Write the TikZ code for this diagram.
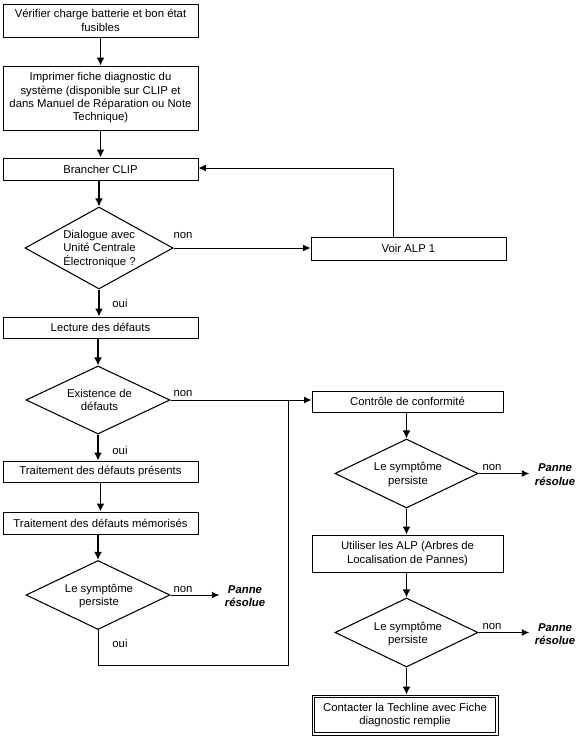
\documentclass[tikz,border=0pt]{standalone}
\usepackage{fontspec}
\setmainfont{Liberation Sans}
\usetikzlibrary{arrows.meta,shapes.geometric}
\begin{document}
\begin{tikzpicture}[x=0.75pt,y=-0.75pt,
  font=\fontsize{8.5}{10}\selectfont,
  box/.style={draw,line width=0.7pt,rectangle,inner sep=0pt,align=center,minimum width=146.25pt},
  dia/.style={draw,line width=0.8pt,diamond,inner sep=0pt},
  txt/.style={inner sep=0pt,align=center},
  lbl/.style={inner sep=0pt},
  panne/.style={inner sep=4pt,align=center,font=\fontsize{8.5}{10}\selectfont\bfseries\itshape},
  flow/.style={line width=1.3pt,-{Latex[length=6pt,width=6pt]}},
  side/.style={line width=0.6pt,-{Latex[length=5.5pt,width=5pt]}},
  plain/.style={line width=0.6pt}]
\useasboundingbox (0,0) rectangle (579,739);
% left column
\node[box,minimum height=24.75pt] (b1) at (100.5,20.5) {Vérifier charge batterie et bon état\\fusibles};
\node[box,minimum height=48pt] (b2) at (100.5,98) {Imprimer fiche diagnostic du\\système (disponible sur CLIP et\\dans Manuel de Réparation ou Note\\Technique)};
\node[box,minimum height=16.5pt] (b3) at (100.5,169) {Brancher CLIP};
\node[dia,minimum width=111pt,minimum height=61.5pt] (d1) at (99,248) {};
\node[txt,align=left,anchor=west] (t1) at (63,249) {Dialogue avec\\Unité Centrale\\Électronique ?};
\node[box,minimum height=17.25pt] (alp) at (408.5,248.5) {Voir ALP 1};
\node[box,minimum height=15.75pt] (b4) at (100.5,327.5) {Lecture des défauts};
\node[dia,minimum width=108pt,minimum height=51pt] (d2) at (98,400) {};
\node[txt] (t2) at (99.5,400) {Existence de\\défauts};
\node[box,minimum width=143.25pt,minimum height=15.75pt] (ctrl) at (407.5,401.5) {Contrôle de conformité};
\node[box,minimum height=15.75pt] (b5) at (100.5,471.5) {Traitement des défauts présents};
\node[box,minimum height=16.5pt] (b6) at (100.5,523) {Traitement des défauts mémorisés};
\node[dia,minimum width=108pt,minimum height=51.75pt] (d3) at (98,595) {};
\node[txt] (t3) at (99,596) {Le symptôme\\persiste};
\node[panne] (p3) at (245,596) {Panne\\résolue};
% right column
\node[dia,minimum width=107.25pt,minimum height=51.75pt] (d4) at (406.5,473.5) {};
\node[txt] (t4) at (408,474.5) {Le symptôme\\persiste};
\node[panne] (p4) at (555,474.5) {Panne\\résolue};
\node[box,minimum width=143.25pt,minimum height=27.75pt] (util) at (407.5,553.5) {Utiliser les ALP (Arbres de\\Localisation de Pannes)};
\node[dia,minimum width=107.25pt,minimum height=51.75pt] (d5) at (406.5,632.5) {};
\node[txt] (t5) at (408,634) {Le symptôme\\persiste};
\node[panne] (p5) at (555,634) {Panne\\résolue};
\node[box,line width=0.6pt,minimum width=139.5pt,minimum height=30pt] (fin) at (405,715) {Contacter la Techline avec Fiche\\diagnostic remplie};
\draw[line width=0.6pt] ([shift={(3,3)}]fin.north west) rectangle ([shift={(-3,-3)}]fin.south east);
% labels
\node[lbl] (n1) at (183,236) {non};
\node[lbl] (o1) at (120,303) {oui};
\node[lbl] (n2) at (183,393) {non};
\node[lbl] (o2) at (120,450) {oui};
\node[lbl] (n3) at (183,589) {non};
\node[lbl] (o3) at (120,643) {oui};
\node[lbl] (n4) at (492,467) {non};
\node[lbl] (n5) at (492,626) {non};
% vertical flow
\draw[flow] (b1) -- (b2);
\draw[flow] (b2) -- (b3);
\draw[flow] (b3.south -| d1.north) -- (d1.north);
\draw[flow] (d1.south) -- (d1.south |- b4.north);
\draw[flow] (b4.south -| d2.north) -- (d2.north);
\draw[flow] (d2.south) -- (d2.south |- b5.north);
\draw[flow] (b5) -- (b6);
\draw[flow] (b6.south -| d3.north) -- (d3.north);
\draw[flow] (d4.north |- ctrl.south) -- (d4.north);
\draw[flow] (d4.south) -- (d4.south |- util.north);
\draw[flow] (d5.north |- util.south) -- (d5.north);
\draw[flow] (d5.south) -- (d5.south |- fin.north);
% side connectors
\coordinate (lp) at (393,168);
\draw[side] (d1.east) -- (d1.east -| alp.west);
\draw[side] (alp.north -| lp) -- (lp) -- (lp -| b3.east);
\draw[side] (d2.east) -- (d2.east -| ctrl.west);
\coordinate (jb) at (288,665);
\draw[plain] (d3.south) |- (jb) -- (jb |- d2.east);
\draw[side] (d3.east) -- (d3.east -| p3.west);
\draw[side] (d4.east) -- (d4.east -| p4.west);
\draw[side] (d5.east) -- (d5.east -| p5.west);
\end{tikzpicture}
\end{document}
